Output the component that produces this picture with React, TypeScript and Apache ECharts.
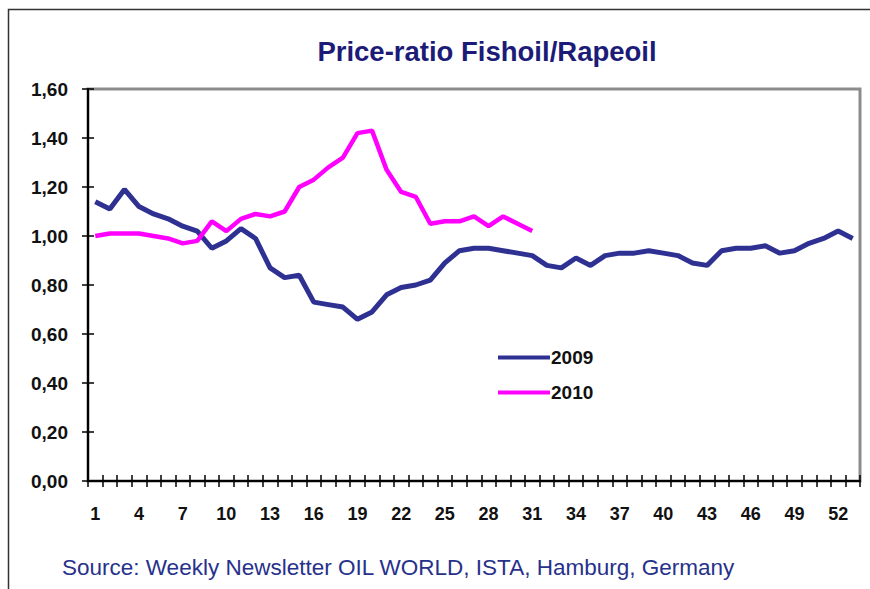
import React, { useEffect, useRef } from "react";
import * as echarts from "echarts";

const weeks: string[] = Array.from({ length: 53 }, (_, i) => String(i + 1));

const series2009: number[] = [
  1.14, 1.11, 1.19, 1.12, 1.09, 1.07, 1.04, 1.02, 0.95, 0.98,
  1.03, 0.99, 0.87, 0.83, 0.84, 0.73, 0.72, 0.71, 0.66, 0.69,
  0.76, 0.79, 0.80, 0.82, 0.89, 0.94, 0.95, 0.95, 0.94, 0.93,
  0.92, 0.88, 0.87, 0.91, 0.88, 0.92, 0.93, 0.93, 0.94, 0.93,
  0.92, 0.89, 0.88, 0.94, 0.95, 0.95, 0.96, 0.93, 0.94, 0.97,
  0.99, 1.02, 0.99,
];

const series2010: number[] = [
  1.00, 1.01, 1.01, 1.01, 1.00, 0.99, 0.97, 0.98, 1.06, 1.02,
  1.07, 1.09, 1.08, 1.10, 1.20, 1.23, 1.28, 1.32, 1.42, 1.43,
  1.27, 1.18, 1.16, 1.05, 1.06, 1.06, 1.08, 1.04, 1.08, 1.05,
  1.02,
];

const seriesNames: string[] = ["2009", "2010"];
const titleText = "Price-ratio Fishoil/Rapeoil";
const sourceText = "Source: Weekly Newsletter OIL WORLD, ISTA, Hamburg, Germany";

const FONT = "'Liberation Sans', Arial, sans-serif";

export default function App() {
  const ref = useRef<HTMLDivElement>(null);

  useEffect(() => {
    if (!ref.current) return;
    const chart = echarts.init(ref.current, undefined, { renderer: "svg" });
    const yFmt = (v: number) => v.toFixed(2).replace(".", ",");
    chart.setOption({
      animation: false,
      backgroundColor: "#ffffff",
      textStyle: { fontFamily: FONT },
      title: {
        text: titleText,
        left: 482,
        top: 32,
        textAlign: "center",
        textStyle: { fontSize: 27.5, fontWeight: "bold", color: "#1c1c78", fontFamily: FONT },
      },
      grid: {
        left: 88,
        right: 10,
        top: 89,
        bottom: 108,
        show: true,
        borderColor: "#8c8c8c",
        borderWidth: 3,
        backgroundColor: "transparent",
      },
      legend: {
        orient: "vertical",
        left: 493,
        top: 343,
        itemWidth: 52,
        itemHeight: 4,
        itemGap: 16,
        icon: "rect",
        textStyle: { fontSize: 19, fontWeight: "bold", color: "#111", fontFamily: FONT, padding: [0, 0, 0, -4] },
        data: seriesNames,
      },
      xAxis: [
        {
          type: "category",
          data: weeks,
          boundaryGap: true,
          axisLine: { show: true, lineStyle: { color: "#000", width: 2 } },
          axisTick: { show: true, interval: 0, length: 6, lineStyle: { color: "#000", width: 1.5 } },
          axisLabel: {
            interval: 2,
            margin: 24,
            fontSize: 18,
            fontWeight: "bold",
            color: "#111",
            fontFamily: FONT,
          },
          splitLine: { show: false },
        },
        {
          type: "category",
          data: weeks,
          position: "bottom",
          boundaryGap: true,
          axisLine: { show: false },
          axisTick: { show: true, inside: true, interval: 0, length: 6, lineStyle: { color: "#000", width: 1.5 } },
          axisLabel: { show: false },
          splitLine: { show: false },
        },
      ],
      yAxis: [
        {
          type: "value",
          min: 0,
          max: 1.6,
          interval: 0.2,
          axisLine: { show: true, lineStyle: { color: "#000", width: 2 } },
          axisTick: { show: true, length: 6, lineStyle: { color: "#000", width: 1.5 } },
          axisLabel: {
            formatter: yFmt,
            margin: 20,
            fontSize: 19,
            fontWeight: "bold",
            color: "#111",
            fontFamily: FONT,
          },
          splitLine: { show: false },
        },
        {
          type: "value",
          min: 0,
          max: 1.6,
          interval: 0.2,
          position: "left",
          axisLine: { show: false },
          axisTick: { show: true, inside: true, length: 6, lineStyle: { color: "#000", width: 1.5 } },
          axisLabel: { show: false },
          splitLine: { show: false },
        },
      ],
      series: [
        {
          name: seriesNames[0],
          type: "line",
          data: series2009,
          xAxisIndex: 0,
          yAxisIndex: 0,
          showSymbol: false,
          symbol: "none",
          lineStyle: { color: "#2e3192", width: 5 },
          itemStyle: { color: "#2e3192" },
          z: 3,
        },
        {
          name: seriesNames[1],
          type: "line",
          data: series2010,
          xAxisIndex: 0,
          yAxisIndex: 0,
          showSymbol: false,
          symbol: "none",
          lineStyle: { color: "#ff00ff", width: 4.5 },
          itemStyle: { color: "#ff00ff" },
          z: 4,
        },
      ],
      graphic: [
        {
          type: "rect",
          shape: { x: 8.5, y: 9.5, width: 900, height: 700 },
          style: { fill: "none", stroke: "#333", lineWidth: 1.5 },
          silent: true,
        },
        {
          type: "text",
          left: 62,
          top: 556,
          style: {
            text: sourceText,
            fontSize: 22.5,
            fontFamily: FONT,
            fill: "#27318b",
          },
        },
      ],
    });
    return () => chart.dispose();
  }, []);

  return (
    <div
      ref={ref}
      style={{ position: "absolute", left: 0, top: 0, width: 870, height: 589 }}
    />
  );
}
